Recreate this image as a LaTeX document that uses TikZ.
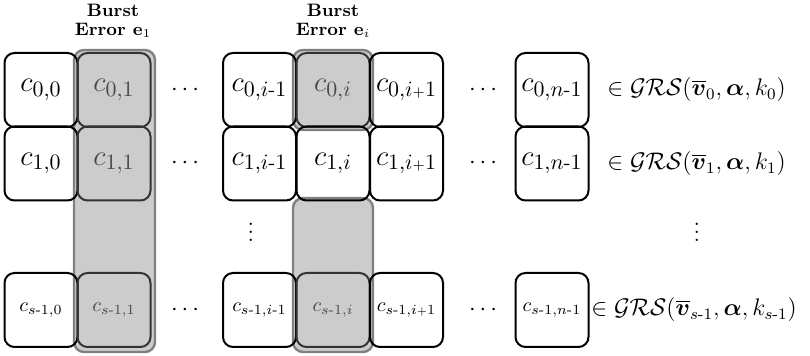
\documentclass[tikz,border=0pt]{standalone}
\usepackage{amsmath,amssymb,bm}
\newcommand{\mh}{\text{-}}
\newcommand{\sP}{{\scriptscriptstyle+}}
\tikzset{
  cell/.style={draw=black, line width=1pt, rounded corners=5pt, minimum width=36.5pt, minimum height=37pt, inner sep=0pt, font=\fontsize{15}{17}\selectfont},
  gcell/.style={cell, draw=black!80, text=black!72},
  small/.style={font=\fontsize{10}{12}\selectfont},
  hl/.style={draw=black!50, line width=1.2pt, fill=black!20, rounded corners=5pt},
  title/.style={font=\fontsize{9}{10}\selectfont\bfseries, align=center, inner sep=0pt},
  lbl/.style={anchor=west, inner sep=0pt, font=\fontsize{12}{14}\selectfont},
  dts/.style={inner sep=0pt, font=\fontsize{12}{14}\selectfont},
}
\begin{document}
\begin{tikzpicture}[x=0.5pt, y=-0.5pt]
\useasboundingbox (0,0) rectangle (810,356);
% highlights
\draw[hl] (74,50) rectangle (155,352);
\draw[hl] (293,50) rectangle (373,130);
\draw[hl] (293,198) rectangle (373,352);
% titles
\node[title] (t1a) at (113,10) {Burst};
\node[title] (t1b) at (113,30) {Error $\mathbf{e}_1$};
\node[title] (t2a) at (333,10) {Burst};
\node[title] (t2b) at (333,30) {Error $\mathbf{e}_i$};
% row 0
\node[cell]  (a00) at (41,90)    {$c_{0,0}$};
\node[gcell] (a01) at (114,90)   {$c_{0,1}$};
\node[dts]   (d0a) at (187,90)   {$\cdots$};
\node[cell]  (a0h) at (259.5,90) {$c_{0,i\mh1}$};
\node[gcell] (a0i) at (333,90)   {$c_{0,i}$};
\node[cell]  (a0j) at (406.5,90) {$c_{0,i\sP1}$};
\node[dts]   (d0b) at (485,90)   {$\cdots$};
\node[cell]  (a0n) at (552,90)   {$c_{0,n\mh1}$};
\node[lbl]   (l0)  at (607,90)   {$\in\mathcal{GRS}(\overline{\bm{v}}_0,\bm{\alpha},k_0)$};
% row 1
\node[cell]  (a10) at (41,163.5)    {$c_{1,0}$};
\node[gcell] (a11) at (114,163.5)   {$c_{1,1}$};
\node[dts]   (d1a) at (187,163.5)   {$\cdots$};
\node[cell]  (a1h) at (259.5,163.5) {$c_{1,i\mh1}$};
\node[cell]  (a1i) at (333,163.5)   {$c_{1,i}$};
\node[cell]  (a1j) at (406.5,163.5) {$c_{1,i\sP1}$};
\node[dts]   (d1b) at (485,163.5)   {$\cdots$};
\node[cell]  (a1n) at (552,163.5)   {$c_{1,n\mh1}$};
\node[lbl]   (l1)  at (607,163.5)   {$\in\mathcal{GRS}(\overline{\bm{v}}_1,\bm{\alpha},k_1)$};
% vertical dots
\node[dts] (vd1) at (251,226) {$\vdots$};
\node[dts] (vd2) at (697,226) {$\vdots$};
% row s-1
\node[cell,small]  (as0) at (41,310)    {$c_{s\mh1,0}$};
\node[gcell,small] (as1) at (114,310)   {$c_{s\mh1,1}$};
\node[dts]         (dsa) at (187,310)   {$\cdots$};
\node[cell,small]  (ash) at (259.5,310) {$c_{s\mh1,i\mh1}$};
\node[gcell,small] (asi) at (333,310)   {$c_{s\mh1,i}$};
\node[cell,small]  (asj) at (406.5,310) {$c_{s\mh1,i\sP1}$};
\node[dts]         (dsb) at (485,310)   {$\cdots$};
\node[cell,small]  (asn) at (552,310)   {$c_{s\mh1,n\mh1}$};
\node[lbl]         (ls)  at (591,310)   {$\in\mathcal{GRS}(\overline{\bm{v}}_{s\mh1},\bm{\alpha},k_{s\mh1})$};
\end{tikzpicture}
\end{document}
